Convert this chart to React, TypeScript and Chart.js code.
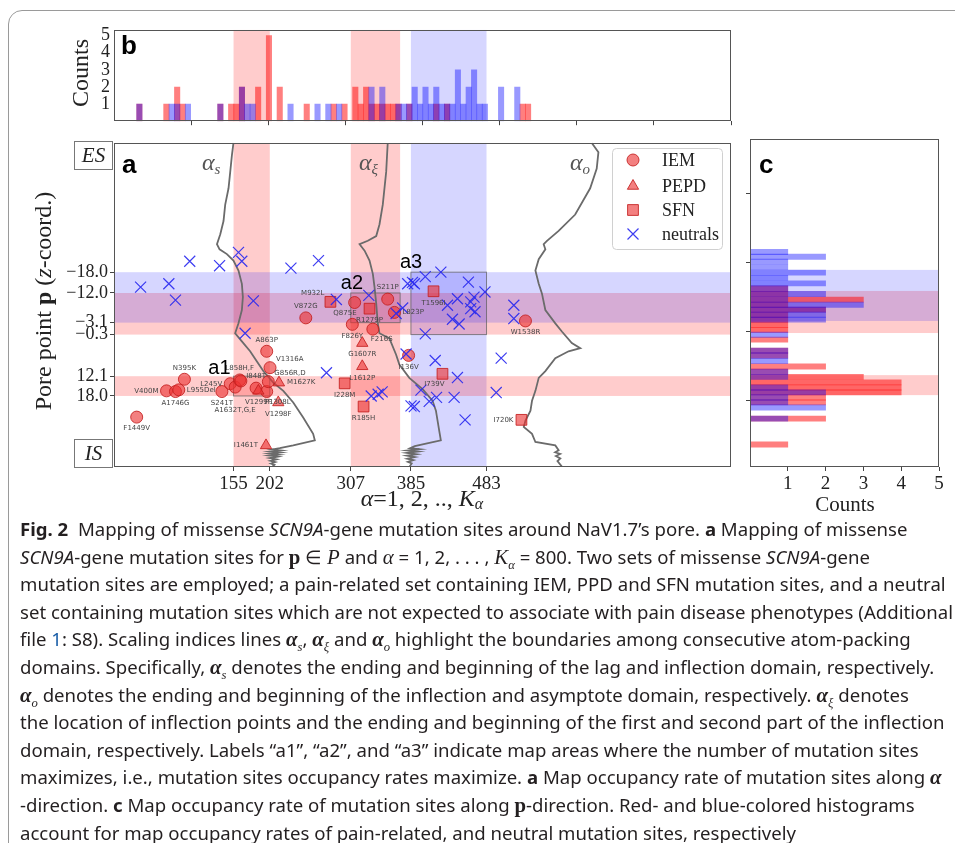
import React, { useEffect, useRef } from 'react';
import { Chart, registerables } from 'chart.js';
Chart.register(...registerables);

const SERIF = '"Liberation Serif", "DejaVu Serif", serif';
const SANS = '"Liberation Sans", "DejaVu Sans", sans-serif';
const TINY = '"DejaVu Sans", sans-serif';

// ---------------- DATA ----------------
// panel a axes
const alphaTicks = [155, 202, 307, 385, 483];
const poreTickPositions = [42.0, 48.1, 56.8, 60.3, 72.5, 78.3];
const poreTickLabels = ['−18.0', '−12.0', '−3.1', '−0.3', '12.1', '18.0'];
const poreTicksC = [20, 40, 60, 80];
const countTicks = [1, 2, 3, 4, 5];
const alphaTicksB = [100, 200, 300, 400, 500, 600, 700, 800];

// highlighted domains
const redAlphaBands = [[155, 202], [307, 371]];
const blueAlphaBands = [[385, 483]];
const redPoreBands = [[48.1, 60.3], [72.5, 78.3]];
const bluePoreBands = [[42.0, 56.8]];
const areaNames = ['a1', 'a2', 'a3'];
const areaBoxes = [[155, 202, 72.5, 78.3], [307, 371, 48.1, 56.8], [385, 483, 42.0, 60.3]];

// IEM (circles)
const iemLabels = ['F1449V', 'V400M', 'A1746G', 'L955Del', 'N395K', 'S241T', 'L245V', 'A1632T,G,E', 'L858H,F', '', 'I848T', 'P1308L', 'G856R,D', 'A863P', 'V1316A', 'V872G', 'Q875E', 'S211P', 'L823P', 'F826Y', 'F216S', 'I136V', 'W1538R'];
const iemAlpha = [29.4, 68.1, 79.7, 84.0, 91.3, 139.9, 150.7, 157.1, 163.0, 164.5, 184.2, 198.0, 200.1, 198.0, 202.3, 248.7, 312.0, 354.9, 363.6, 309.0, 335.6, 382.0, 533.5];
const iemPore = [84.5, 76.8, 77.0, 76.5, 73.4, 77.0, 74.7, 75.7, 73.6, 73.9, 76.0, 77.0, 74.1, 65.2, 70.0, 55.4, 50.9, 49.9, 53.8, 57.3, 58.7, 66.4, 56.3];
const iemPlace = ['b', 'l', 'b', 'r', 'a', 'b', 'l', 'b2', 'a', '', 'a', 'br', 'ar', 'a', 'ar', 'a', 'bl', 'a', 'r', 'b', 'br', 'b', 'b'];

// PEPD (triangles)
const pepdLabels = ['M1627K', 'V1299F', 'V1298F', 'I1461T', 'G1607R', 'L1612P'];
const pepdAlpha = [213.9, 187.2, 213.0, 197.1, 321.9, 321.9];
const pepdPore = [74.4, 76.8, 80.2, 92.8, 62.8, 69.6];
const pepdPlace = ['r', 'b', 'b', 'l', 'b', 'b'];

// SFN (squares)
const sfnLabels = ['M932L', 'R1279P', 'I228M', 'R185H', 'T1596I', 'I739V', 'I720K'];
const sfnAlpha = [280.6, 331.3, 299.1, 323.6, 414.3, 425.9, 528.3];
const sfnPore = [50.7, 52.7, 74.6, 81.4, 47.6, 71.8, 85.3];
const sfnPlace = ['al', 'b', 'b', 'b', 'b', 'bl', 'l'];

// neutrals (x)
const neutralAlpha = [34.5, 71.1, 79.7, 98.2, 136.9, 161.4, 165.7, 180.7, 170.0, 229.4, 265.1, 288.3, 330.4, 365.8, 380.8, 389.4, 387.0, 403.6, 423.8, 459.5, 481.0, 445.3, 466.8, 462.5, 432.4, 462.5, 468.1, 438.8, 447.5, 374.3, 403.6, 518.4, 518.4, 275.5, 333.5, 342.5, 347.7, 378.7, 416.5, 445.3, 398.0, 418.2, 408.7, 441.0, 385.1, 389.4, 455.2, 502.0, 495.6];
const neutralPore = [46.4, 45.4, 50.2, 38.8, 40.1, 36.2, 38.8, 50.4, 59.9, 40.8, 38.6, 50.0, 48.8, 54.1, 45.4, 45.4, 45.0, 43.3, 42.0, 44.9, 47.8, 49.8, 49.3, 50.7, 51.7, 52.7, 53.6, 55.8, 57.2, 52.5, 60.1, 51.7, 55.6, 71.5, 78.3, 77.8, 77.1, 66.0, 67.9, 72.9, 76.6, 78.7, 79.9, 78.7, 81.2, 81.4, 85.3, 67.2, 77.3];

// scaling-index lines [alpha, pore point]
const curveS: [number, number][] = [[154.9, 4.1], [152.9, 7.7], [150.7, 12.6], [148.5, 17.4], [144.2, 22.2], [142.0, 27.0], [137.8, 30.9], [133.5, 33.8], [136.9, 35.3], [146.4, 36.7], [154.9, 38.6], [161.4, 41.5], [165.8, 45.4], [167.1, 49.3], [165.8, 53.1], [161.4, 57.0], [157.1, 59.9], [165.8, 62.3], [176.5, 65.2], [185.1, 68.1], [193.6, 71.0], [206.5, 74.4], [219.5, 76.8], [232.4, 80.2], [245.3, 84.6], [258.2, 89.4], [260.4, 91.3], [232.4, 92.8], [214.9, 93.6], [205.0, 94.0], [216.0, 94.3], [203.0, 94.6], [215.0, 94.9], [202.0, 95.2], [213.0, 95.5], [201.5, 95.8], [212.0, 96.1], [202.0, 96.5], [210.5, 96.9], [203.0, 97.3], [209.0, 97.7], [203.5, 98.1], [208.0, 98.5], [205.0, 99.1]];
const curveXi: [number, number][] = [[354.9, 4.1], [352.9, 12.6], [348.5, 22.2], [344.2, 28.0], [340.0, 31.4], [329.1, 32.8], [318.4, 33.8], [324.9, 35.7], [331.3, 38.6], [335.6, 42.5], [337.8, 46.4], [340.0, 51.2], [342.0, 57.0], [344.2, 59.9], [357.1, 61.4], [365.8, 66.2], [370.0, 69.1], [382.9, 73.0], [400.1, 76.3], [413.0, 79.7], [417.4, 82.6], [421.6, 88.4], [423.8, 91.3], [404.5, 92.3], [390.0, 93.0], [384.0, 93.6], [396.0, 93.9], [381.0, 94.3], [394.0, 94.6], [380.0, 95.0], [392.0, 95.4], [380.0, 95.8], [390.0, 96.2], [380.5, 96.7], [388.0, 97.1], [381.0, 97.6], [386.0, 98.1], [382.9, 99.1]];
const curveO: [number, number][] = [[619.5, 4.1], [628.1, 6.8], [625.9, 11.6], [617.4, 17.4], [598.0, 25.1], [576.5, 29.9], [561.4, 32.8], [557.1, 33.8], [559.3, 35.3], [550.7, 38.2], [546.4, 41.5], [550.7, 45.4], [554.9, 48.3], [559.3, 53.1], [572.2, 57.0], [580.7, 59.4], [593.6, 62.8], [604.5, 64.3], [589.4, 65.2], [572.2, 67.2], [559.3, 71.0], [550.7, 73.0], [546.4, 76.8], [542.0, 79.7], [540.0, 82.6], [533.5, 85.5], [531.3, 87.4], [542.0, 89.4], [546.4, 91.8], [572.2, 92.8], [576.5, 94.2], [572.0, 94.8], [578.5, 95.3], [573.0, 95.9], [578.7, 96.6], [575.0, 97.4], [580.7, 99.0]];

// panel b histogram along alpha
const bAlpha = [32.9, 67.9, 74.9, 81.9, 88.9, 95.9, 137.9, 151.9, 158.9, 165.9, 172.9, 179.9, 186.9, 200.9, 214.9, 228.9, 249.9, 263.9, 277.9, 284.9, 291.9, 298.9, 312.9, 319.9, 326.9, 333.9, 340.9, 347.9, 354.9, 361.9, 368.9, 375.9, 382.9, 389.9, 396.9, 403.9, 410.9, 417.9, 424.9, 431.9, 438.9, 445.9, 452.9, 459.9, 466.9, 473.9, 480.9, 501.9, 522.9, 529.9, 536.9];
const bPain = [1, 1, 0, 2, 1, 0, 1, 1, 1, 2, 0, 0, 2, 5, 2, 0, 1, 0, 0, 1, 0, 1, 2, 1, 2, 1, 1, 1, 1, 1, 1, 0, 1, 0, 0, 0, 0, 1, 0, 1, 0, 0, 0, 0, 0, 0, 0, 0, 0, 1, 1];
const bNeutral = [1, 0, 1, 1, 0, 1, 1, 0, 0, 2, 1, 1, 0, 0, 0, 1, 0, 1, 1, 0, 1, 0, 0, 0, 0, 2, 0, 2, 0, 0, 1, 1, 1, 2, 1, 2, 1, 2, 1, 1, 1, 3, 1, 2, 3, 1, 1, 2, 2, 0, 0];

// panel c histogram along pore points
const cPore = [36.8, 38.2, 39.6, 41.2, 42.8, 44.3, 45.9, 47.4, 49.0, 50.6, 52.1, 53.5, 55.0, 56.4, 57.9, 59.4, 60.8, 62.2, 65.4, 66.8, 68.4, 70.0, 71.5, 73.0, 74.6, 76.1, 77.5, 79.0, 80.4, 81.9, 85.1, 92.6];
const cPain = [0, 0, 0, 0, 0, 0, 0, 1, 1, 3, 1, 2, 1, 1, 1, 1, 0, 1, 1, 1, 0, 2, 1, 3, 4, 4, 4, 2, 2, 0, 2, 1];
const cNeutral = [1, 2, 1, 1, 2, 1, 2, 1, 2, 1, 3, 2, 2, 2, 0, 0, 1, 0, 1, 1, 1, 0, 1, 1, 0, 1, 2, 1, 1, 2, 1, 0];

const legendNames = ['IEM', 'PEPD', 'SFN', 'neutrals'];

// ---------------- STYLE ----------------
const RED_FILL = 'rgba(235,50,50,0.62)';
const RED_EDGE = 'rgba(195,30,30,0.85)';
const BLUE_X = 'rgba(40,40,240,0.9)';
const RED_BAND = 'rgba(255,0,0,0.2)';
const BLUE_BAND = 'rgba(0,0,255,0.16)';
const RED_BAR = 'rgba(255,0,0,0.5)';
const BLUE_BAR = 'rgba(0,0,255,0.4)';
const PORE_MIN = 4.06;
const PORE_MAX = 99.13;

const tickGrid = { display: true, drawOnChartArea: false, drawTicks: true, tickLength: 4, color: '#444', lineWidth: 1, offset: false };

type Run = { t: string; font: string; dy?: number };
function drawRuns(ctx: CanvasRenderingContext2D, runs: Run[], x: number, y: number, align: string) {
  let total = 0;
  runs.forEach(r => { ctx.font = r.font; total += ctx.measureText(r.t).width; });
  let cx = align === 'center' ? x - total / 2 : align === 'right' ? x - total : x;
  ctx.textAlign = 'left';
  runs.forEach(r => { ctx.font = r.font; ctx.fillText(r.t, cx, y + (r.dy || 0)); cx += ctx.measureText(r.t).width; });
}

function framePlugin(id: string) {
  return {
    id,
    afterDatasetsDraw(chart: any) {
      const { ctx, chartArea: a } = chart;
      ctx.save();
      ctx.strokeStyle = '#555';
      ctx.lineWidth = 1;
      ctx.strokeRect(Math.round(a.left) + 0.5, Math.round(a.top) + 0.5, Math.round(a.width) - 1, Math.round(a.height) - 1);
      ctx.restore();
    },
  };
}

function bandsPlugin(useAlpha: boolean, usePore: boolean, boxes: boolean) {
  return {
    id: 'bands',
    beforeDatasetsDraw(chart: any) {
      const { ctx, chartArea: ca, scales } = chart;
      ctx.save();
      ctx.beginPath();
      ctx.rect(ca.left, ca.top, ca.width, ca.height);
      ctx.clip();
      if (useAlpha) {
        const xs = scales.x;
        const vb = (bands: number[][], col: string) => bands.forEach(([a, b]) => {
          const x1 = xs.getPixelForValue(a), x2 = xs.getPixelForValue(b);
          ctx.fillStyle = col;
          ctx.fillRect(x1, ca.top, x2 - x1, ca.height);
        });
        vb(redAlphaBands, RED_BAND);
        vb(blueAlphaBands, BLUE_BAND);
      }
      if (usePore) {
        const ys = scales.y;
        const hb = (bands: number[][], col: string) => bands.forEach(([a, b]) => {
          const y1 = ys.getPixelForValue(a), y2 = ys.getPixelForValue(b);
          ctx.fillStyle = col;
          ctx.fillRect(ca.left, y1, ca.width, y2 - y1);
        });
        hb(redPoreBands, RED_BAND);
        hb(bluePoreBands, BLUE_BAND);
      }
      if (boxes) {
        ctx.strokeStyle = 'rgba(90,90,90,0.7)';
        ctx.lineWidth = 1;
        areaBoxes.forEach(([a1, a2, p1, p2]) => {
          const x1 = scales.x.getPixelForValue(a1), x2 = scales.x.getPixelForValue(a2);
          const y1 = scales.y.getPixelForValue(p1), y2 = scales.y.getPixelForValue(p2);
          ctx.strokeRect(x1, y1, x2 - x1, y2 - y1);
        });
      }
      ctx.restore();
    },
  };
}

function drawMarker(ctx: CanvasRenderingContext2D, kind: string, x: number, y: number) {
  ctx.save();
  ctx.beginPath();
  if (kind === 'circle') {
    ctx.arc(x, y, 6, 0, Math.PI * 2);
  } else if (kind === 'triangle') {
    const r = 6.5;
    ctx.moveTo(x, y - r);
    ctx.lineTo(x + 0.866 * r, y + 0.5 * r);
    ctx.lineTo(x - 0.866 * r, y + 0.5 * r);
    ctx.closePath();
  } else if (kind === 'rect') {
    ctx.rect(x - 5.4, y - 5.4, 10.8, 10.8);
  }
  if (kind === 'x') {
    ctx.moveTo(x - 5.5, y - 5.5); ctx.lineTo(x + 5.5, y + 5.5);
    ctx.moveTo(x + 5.5, y - 5.5); ctx.lineTo(x - 5.5, y + 5.5);
    ctx.strokeStyle = BLUE_X; ctx.lineWidth = 1.2; ctx.stroke();
  } else {
    ctx.fillStyle = RED_FILL; ctx.fill();
    ctx.strokeStyle = RED_EDGE; ctx.lineWidth = 1; ctx.stroke();
  }
  ctx.restore();
}

const annotA = {
  id: 'annotA',
  afterDatasetsDraw(chart: any) {
    const { ctx } = chart;
    const groups = [
      { ds: 3, labels: iemLabels, place: iemPlace, r: 6 },
      { ds: 4, labels: pepdLabels, place: pepdPlace, r: 6 },
      { ds: 5, labels: sfnLabels, place: sfnPlace, r: 6 },
    ];
    ctx.save();
    ctx.font = '7px ' + TINY;
    ctx.fillStyle = '#444';
    groups.forEach(g => {
      const meta = chart.getDatasetMeta(g.ds);
      meta.data.forEach((el: any, i: number) => {
        const t = g.labels[i];
        if (!t) return;
        const p = g.place[i];
        const { x, y } = el;
        const r = g.r;
        let tx = x, ty = y, al: CanvasTextAlign = 'center', bl: CanvasTextBaseline = 'top';
        if (p === 'b') { ty = y + r + 2; }
        else if (p === 'b2') { ty = y + r + 14; }
        else if (p === 'a') { ty = y - r - 2; bl = 'bottom'; }
        else if (p === 'l') { tx = x - r - 2; al = 'right'; bl = 'middle'; }
        else if (p === 'r') { tx = x + r + 2; al = 'left'; bl = 'middle'; }
        else if (p === 'ar') { tx = x + r; ty = y - r + 1; al = 'left'; bl = 'bottom'; }
        else if (p === 'al') { tx = x - r; ty = y - r + 1; al = 'right'; bl = 'bottom'; }
        else if (p === 'bl') { tx = x + 2; ty = y + r + 1; al = 'right'; }
        else if (p === 'br') { tx = x - 2; ty = y + r + 1; al = 'left'; }
        ctx.textAlign = al; ctx.textBaseline = bl;
        ctx.fillText(t, tx, ty);
      });
    });
    ctx.restore();
  },
  afterDraw(chart: any) {
    const { ctx } = chart;
    ctx.save();
    ctx.fillStyle = '#000';
    ctx.textBaseline = 'alphabetic';
    ctx.textAlign = 'left';
    ctx.font = 'bold 26px ' + SANS;
    ctx.fillText('a', 122, 43);
    // area labels
    ctx.font = '20px ' + SANS;
    const ys = chart.scales.y, xs = chart.scales.x;
    const areaPos = [[-3, 0.5], [-10, -1], [-11, -1.5]];
    areaNames.forEach((n, i) => {
      const b = areaBoxes[i];
      const x = xs.getPixelForValue(b[0]) + areaPos[i][0];
      const y = ys.getPixelForValue(b[2]) + areaPos[i][1];
      ctx.textAlign = i === 0 ? 'right' : 'left';
      ctx.fillText(n, x, y - 3);
    });
    // ES / IS boxes
    ctx.strokeStyle = '#777';
    ctx.lineWidth = 1;
    ctx.fillStyle = '#fff';
    ctx.fillRect(74, 11, 38, 28); ctx.strokeRect(74.5, 11.5, 38, 28);
    ctx.fillRect(74, 309, 38, 28); ctx.strokeRect(74.5, 309.5, 38, 28);
    ctx.fillStyle = '#222';
    ctx.textAlign = 'center';
    ctx.textBaseline = 'middle';
    ctx.font = 'italic 21px ' + SERIF;
    ctx.fillText('ES', 93.5, 26);
    ctx.fillText('IS', 93.5, 324);
    // scaling index labels
    ctx.fillStyle = '#555';
    ctx.textBaseline = 'alphabetic';
    const al = (x: number, sub: string) => drawRuns(ctx, [
      { t: 'α', font: 'italic 24px ' + SERIF },
      { t: sub, font: 'italic 15px ' + SERIF, dy: 4 },
    ], x, 40, 'left');
    al(202, 's');
    al(359, 'ξ');
    al(570, 'o');
    // legend
    ctx.fillStyle = 'rgba(255,255,255,0.85)';
    ctx.strokeStyle = '#d0d0d0';
    ctx.beginPath();
    (ctx as any).roundRect(612.5, 18.5, 110, 101, 4);
    ctx.fill(); ctx.stroke();
    const kinds = ['circle', 'triangle', 'rect', 'x'];
    const ly = [30, 56, 80, 104];
    legendNames.forEach((n, i) => {
      drawMarker(ctx, kinds[i], 633, ly[i]);
      ctx.fillStyle = '#222';
      ctx.font = '18px ' + SERIF;
      ctx.textAlign = 'left';
      ctx.textBaseline = 'middle';
      ctx.fillText(n, 662, ly[i] + 1);
    });
    // axis titles
    ctx.fillStyle = '#222';
    ctx.textBaseline = 'middle';
    drawRuns(ctx, [
      { t: 'α', font: 'italic 24px ' + SERIF },
      { t: '=1, 2, .., ', font: '24px ' + SERIF },
      { t: 'K', font: 'italic 24px ' + SERIF },
      { t: 'α', font: 'italic 16px ' + SERIF, dy: 5 },
    ], 422, 370, 'center');
    ctx.translate(45, 171);
    ctx.rotate(-Math.PI / 2);
    drawRuns(ctx, [
      { t: 'Pore point ', font: '24px ' + SERIF },
      { t: 'p', font: 'bold 24px ' + SERIF },
      { t: ' (', font: '24px ' + SERIF },
      { t: 'z', font: 'italic 24px ' + SERIF },
      { t: '-coord.)', font: '24px ' + SERIF },
    ], 0, 0, 'center');
    ctx.restore();
  },
};

const annotB = {
  id: 'annotB',
  afterDraw(chart: any) {
    const { ctx } = chart;
    ctx.save();
    ctx.fillStyle = '#000';
    ctx.font = 'bold 26px ' + SANS;
    ctx.textAlign = 'left';
    ctx.textBaseline = 'alphabetic';
    ctx.fillText('b', 121, 39);
    ctx.fillStyle = '#222';
    ctx.translate(82, 58);
    ctx.rotate(-Math.PI / 2);
    ctx.textAlign = 'center';
    ctx.textBaseline = 'middle';
    ctx.font = '24px ' + SERIF;
    ctx.fillText('Counts', 0, 0);
    ctx.restore();
  },
};

const annotC = {
  id: 'annotC',
  afterDraw(chart: any) {
    const { ctx } = chart;
    ctx.save();
    ctx.fillStyle = '#000';
    ctx.font = 'bold 26px ' + SANS;
    ctx.textAlign = 'left';
    ctx.textBaseline = 'alphabetic';
    ctx.fillText('c', 14, 43);
    ctx.fillStyle = '#222';
    ctx.font = '21px ' + SERIF;
    ctx.textAlign = 'center';
    ctx.textBaseline = 'middle';
    ctx.fillText('Counts', 100, 375);
    ctx.restore();
  },
};

const baseOpts = {
  responsive: false,
  animation: false as const,
  devicePixelRatio: 1,
  events: [] as any[],
};

function makeA(canvas: HTMLCanvasElement) {
  const pts = (a: number[], p: number[]) => a.map((x, i) => ({ x, y: p[i] }));
  const line = (c: [number, number][]) => ({
    data: c.map(([x, y]) => ({ x, y })), showLine: true, borderColor: '#6b6b6b', borderWidth: 1.8,
    pointRadius: 0, fill: false, order: 10, tension: 0,
  });
  return new Chart(canvas, {
    type: 'scatter',
    data: {
      datasets: [
        line(curveS), line(curveXi), line(curveO),
        { label: 'IEM', data: pts(iemAlpha, iemPore), pointStyle: 'circle', pointRadius: 6, backgroundColor: RED_FILL, borderColor: RED_EDGE, borderWidth: 1, order: 4 },
        { label: 'PEPD', data: pts(pepdAlpha, pepdPore), pointStyle: 'triangle', pointRadius: 6.5, backgroundColor: RED_FILL, borderColor: RED_EDGE, borderWidth: 1, order: 3 },
        { label: 'SFN', data: pts(sfnAlpha, sfnPore), pointStyle: 'rect', pointRadius: 7.6, backgroundColor: RED_FILL, borderColor: RED_EDGE, borderWidth: 1, order: 2 },
        { label: 'neutrals', data: pts(neutralAlpha, neutralPore), pointStyle: 'crossRot', pointRadius: 7.8, backgroundColor: BLUE_X, borderColor: BLUE_X, borderWidth: 1.2, order: 1 },
      ] as any,
    },
    options: {
      ...baseOpts,
      layout: { padding: { top: 9, right: 14, left: 0, bottom: 0 } },
      plugins: { legend: { display: false }, tooltip: { enabled: false } },
      scales: {
        x: {
          type: 'linear', min: 0, max: 800,
          afterBuildTicks: (s: any) => { s.ticks = alphaTicks.map(v => ({ value: v })); },
          afterFit: (s: any) => { s.height = 53; },
          ticks: { autoSkip: false, maxRotation: 0, padding: 2, color: '#222', font: { family: SERIF, size: 19 }, callback: (v: any) => String(v) },
          grid: tickGrid, border: { display: false },
        },
        y: {
          type: 'linear', reverse: true, min: PORE_MIN, max: PORE_MAX,
          afterBuildTicks: (s: any) => { s.ticks = poreTickPositions.map(v => ({ value: v })); },
          afterFit: (s: any) => { s.width = 114; },
          ticks: {
            autoSkip: false, padding: 2, color: '#222', font: { family: SERIF, size: 18 },
            callback: (v: any) => { const i = poreTickPositions.indexOf(v); return i >= 0 ? poreTickLabels[i] : ''; },
          },
          grid: tickGrid, border: { display: false },
        },
      },
    } as any,
    plugins: [bandsPlugin(true, true, true), framePlugin('frameA'), annotA],
  });
}

function makeB(canvas: HTMLCanvasElement) {
  const ds = (vals: number[], col: string, order: number) => ({
    data: bAlpha.map((x, i) => ({ x, y: vals[i] })).filter(p => p.y > 0),
    backgroundColor: col, barThickness: 5.4, grouped: false, order, borderWidth: 0,
  });
  return new Chart(canvas, {
    type: 'bar',
    data: { datasets: [ds(bPain, RED_BAR, 2), ds(bNeutral, BLUE_BAR, 1)] as any },
    options: {
      ...baseOpts,
      layout: { padding: { top: 12, right: 14, left: 0, bottom: 0 } },
      plugins: { legend: { display: false }, tooltip: { enabled: false } },
      scales: {
        x: {
          type: 'linear', min: 0, max: 800, offset: false,
          afterBuildTicks: (s: any) => { s.ticks = alphaTicksB.map(v => ({ value: v })); },
          afterFit: (s: any) => { s.height = 6; },
          ticks: { display: false },
          grid: tickGrid, border: { display: false },
        },
        y: {
          type: 'linear', min: 0, max: 5.34,
          afterBuildTicks: (s: any) => { s.ticks = countTicks.map(v => ({ value: v })); },
          afterFit: (s: any) => { s.width = 114; },
          ticks: { autoSkip: false, padding: 4, color: '#222', font: { family: SERIF, size: 18 } },
          grid: { display: false, drawTicks: false }, border: { display: false },
        },
      },
    } as any,
    plugins: [bandsPlugin(true, false, false), framePlugin('frameB'), annotB],
  });
}

function makeC(canvas: HTMLCanvasElement) {
  const ds = (vals: number[], col: string, order: number) => ({
    data: cPore.map((y, i) => ({ x: vals[i], y })).filter(p => p.x > 0),
    backgroundColor: col, barThickness: 5.2, grouped: false, order, borderWidth: 0,
  });
  return new Chart(canvas, {
    type: 'bar',
    data: { datasets: [ds(cPain, RED_BAR, 2), ds(cNeutral, BLUE_BAR, 1)] as any },
    options: {
      ...baseOpts,
      indexAxis: 'y',
      layout: { padding: { top: 9, right: 16, left: 0, bottom: 0 } },
      plugins: { legend: { display: false }, tooltip: { enabled: false } },
      scales: {
        x: {
          type: 'linear', min: 0, max: 5,
          afterBuildTicks: (s: any) => { s.ticks = countTicks.map(v => ({ value: v })); },
          afterFit: (s: any) => { s.height = 53; },
          ticks: { autoSkip: false, maxRotation: 0, padding: 2, color: '#222', font: { family: SERIF, size: 19 } },
          grid: tickGrid, border: { display: false },
        },
        y: {
          type: 'linear', reverse: true, min: PORE_MIN, max: PORE_MAX, offset: false,
          afterBuildTicks: (s: any) => { s.ticks = poreTicksC.map(v => ({ value: v })); },
          afterFit: (s: any) => { s.width = 5; },
          ticks: { display: false },
          grid: tickGrid, border: { display: false },
        },
      },
    } as any,
    plugins: [bandsPlugin(false, true, false), framePlugin('frameC'), annotC],
  });
}

const capFont = '"Noto Sans", "Open Sans", sans-serif';
const mathFont = '"Liberation Serif", serif';
const I = (p: any) => <span style={{ fontStyle: 'italic' }}>{p.children}</span>;
const MI = (p: any) => <span style={{ fontFamily: mathFont, fontStyle: 'italic', fontSize: '1.12em' }}>{p.children}</span>;
const MB = (p: any) => <span style={{ fontFamily: mathFont, fontWeight: 'bold', fontStyle: p.it ? 'italic' : 'normal', fontSize: '1.12em' }}>{p.children}</span>;
const Sub = (p: any) => <sub style={{ fontSize: '0.68em', lineHeight: 0, fontFamily: mathFont, fontStyle: 'italic' }}>{p.children}</sub>;
const BA = (p: any) => <span><MB it>α</MB><Sub>{p.s}</Sub></span>;

export default function App() {
  const aRef = useRef<HTMLCanvasElement>(null);
  const bRef = useRef<HTMLCanvasElement>(null);
  const cRef = useRef<HTMLCanvasElement>(null);
  useEffect(() => {
    const charts = [makeB(bRef.current!), makeA(aRef.current!), makeC(cRef.current!)];
    return () => charts.forEach(c => c.destroy());
  }, []);
  const lineStyle: React.CSSProperties = { whiteSpace: 'nowrap', height: 27.6, lineHeight: '27.6px' };
  return (
    <div style={{ position: 'fixed', left: 0, top: 0, width: 955, height: 843, overflow: 'hidden', background: '#fff' }}>
      <div style={{ position: 'absolute', left: 8, top: 10, width: 1000, height: 900, border: '1px solid #9a9a9a', borderRadius: 14, boxSizing: 'border-box' }} />
      <canvas ref={bRef} width={745} height={121} style={{ position: 'absolute', left: 0, top: 15, width: 745, height: 121, display: 'block' }} />
      <canvas ref={aRef} width={745} height={390} style={{ position: 'absolute', left: 0, top: 130, width: 745, height: 390, display: 'block' }} />
      <canvas ref={cRef} width={210} height={390} style={{ position: 'absolute', left: 745, top: 130, width: 210, height: 390, display: 'block' }} />
      <div style={{ position: 'absolute', left: 20, top: 515, fontFamily: capFont, fontSize: 18.6, color: '#231f20' }}>
        <div style={lineStyle}><b>Fig. 2</b>&nbsp; Mapping of missense <I>SCN9A</I>-gene mutation sites around NaV1.7’s pore. <b>a</b> Mapping of missense</div>
        <div style={lineStyle}><I>SCN9A</I>-gene mutation sites for <MB>p</MB> ∈ <MI>P</MI> and <MI>α</MI> = 1, 2, . . . , <MI>K</MI><Sub>α</Sub> = 800. Two sets of missense <I>SCN9A</I>-gene</div>
        <div style={lineStyle}>mutation sites are employed; a pain-related set containing IEM, PPD and SFN mutation sites, and a neutral</div>
        <div style={lineStyle}>set containing mutation sites which are not expected to associate with pain disease phenotypes (Additional</div>
        <div style={lineStyle}>file <span style={{ color: '#1a5ea8' }}>1</span>: S8). Scaling indices lines <BA s="s" />, <BA s="ξ" /> and <BA s="o" /> highlight the boundaries among consecutive atom-packing</div>
        <div style={lineStyle}>domains. Specifically, <BA s="s" /> denotes the ending and beginning of the lag and inflection domain, respectively.</div>
        <div style={lineStyle}><BA s="o" /> denotes the ending and beginning of the inflection and asymptote domain, respectively. <BA s="ξ" /> denotes</div>
        <div style={lineStyle}>the location of inflection points and the ending and beginning of the first and second part of the inflection</div>
        <div style={lineStyle}>domain, respectively. Labels “a1”, “a2”, and “a3” indicate map areas where the number of mutation sites</div>
        <div style={lineStyle}>maximizes, i.e., mutation sites occupancy rates maximize. <b>a</b> Map occupancy rate of mutation sites along <MB it>α</MB></div>
        <div style={lineStyle}>-direction. <b>c</b> Map occupancy rate of mutation sites along <MB>p</MB>-direction. Red- and blue-colored histograms</div>
        <div style={lineStyle}>account for map occupancy rates of pain-related, and neutral mutation sites, respectively</div>
      </div>
    </div>
  );
}
